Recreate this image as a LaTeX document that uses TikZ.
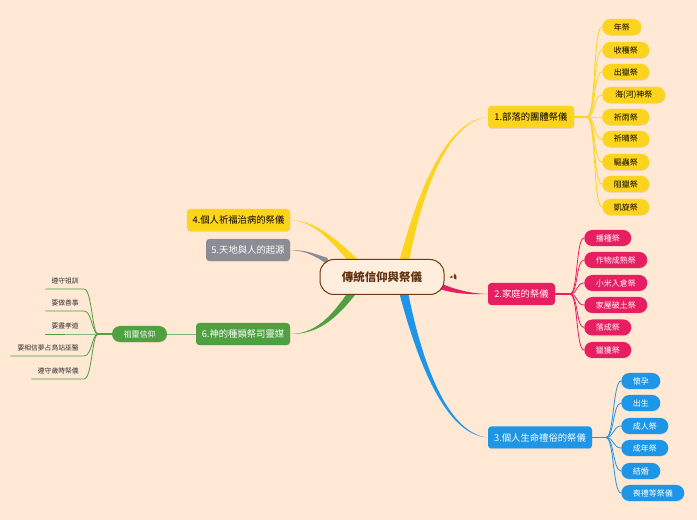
\documentclass[tikz,border=0pt]{standalone}
\usepackage{fontspec}
\setmainfont{Noto Sans CJK TC}
\usetikzlibrary{backgrounds,calc,shadows}
\definecolor{bgpeach}{HTML}{FFE8D4}
\definecolor{rootfill}{HTML}{FFEEDD}
\definecolor{rootbrown}{HTML}{6E3A10}
\definecolor{ymain}{HTML}{FCD41E}
\definecolor{pmain}{HTML}{E81E62}
\definecolor{bmain}{HTML}{1E96E8}
\definecolor{gmain}{HTML}{4EA040}
\definecolor{gymain}{HTML}{8C8C94}
\tikzset{
  softshade/.style={drop shadow={shadow xshift=0.3pt,shadow yshift=-0.6pt,opacity=0.18}},
  mainbox/.style={rounded corners=2.5pt,font=\fontsize{7pt}{8pt}\selectfont,
    minimum height=16.5pt,inner sep=0pt,softshade},
  subpill/.style={rounded corners=6pt,font=\fontsize{6pt}{7pt}\selectfont,
    minimum height=12pt,inner sep=0pt,softshade},
  plainleaf/.style={font=\fontsize{5.1pt}{6pt}\selectfont,inner xsep=3.75pt,inner ysep=3pt,
    text height=5pt,text depth=1pt,align=right,text=black!80,anchor=south east},
  leafline/.style={line width=0.6pt},
  trunk/.style={line width=1pt},
}
\begin{document}
\begin{tikzpicture}[x=0.75pt,y=-0.75pt]

\begin{scope}[on background layer]
\path[use as bounding box,fill=bgpeach] (0,0) rectangle (697,520);
\end{scope}

% Root and the six main topics
\node[rounded corners=10.5pt,draw=rootbrown,line width=0.75pt,fill=rootfill,text=rootbrown!85!black,
      minimum width=93pt,minimum height=26.25pt,inner sep=0pt,
      font=\fontsize{8.6pt}{10pt}\selectfont\bfseries] (root) at (382,277) {傳統信仰與祭儀};
\node[mainbox,fill=ymain,text=black,minimum width=64.5pt] (partA) at (531,117) {1.部落的團體祭儀};
\node[mainbox,fill=pmain,text=white,minimum width=50.25pt] (partB) at (521.5,294) {2.家庭的祭儀};
\node[mainbox,fill=bmain,text=white,minimum width=78pt] (partC) at (540,437.5) {3.個人生命禮俗的祭儀};
\node[mainbox,fill=ymain,text=black,minimum width=77.25pt] (partD) at (238.5,220) {4.個人祈福治病的祭儀};
\node[mainbox,fill=gymain,text=white,minimum width=63pt] (partE) at (248,250) {5.天地與人的起源};
\node[mainbox,fill=gmain,text=white,minimum width=70.5pt] (partF) at (243,334) {6.神的種類祭司靈媒};

% Pills of topic 1
\foreach \nm/\yy/\ww/\lab in {a1/27/39/年祭, a2/50/47/收穫祭, a3/72/47/出獵祭,
    a4/95/63/海(河)神祭, a5/117/47/祈雨祭, a6/139/47/祈晴祭,
    a7/162/47/驅蟲祭, a8/184/47/阻獵祭, a9/207/47/凱旋祭} {
  \node[subpill,fill=ymain,text=black,anchor=west,minimum width=\ww*0.75pt] (\nm) at (602,\yy) {\lab};
}
% Pills of topic 2
\foreach \nm/\yy/\ww/\lab in {b1/238/47/播種祭, b2/260/63/作物成熟祭, b3/283/63/小米入倉祭,
    b4/305/63/家屋破土祭, b5/327.5/47/落成祭, b6/350/47/獵獲祭} {
  \node[subpill,fill=pmain,text=white,anchor=west,minimum width=\ww*0.75pt] (\nm) at (584,\yy) {\lab};
}
% Pills of topic 3
\foreach \nm/\yy/\ww/\lab in {c1/381/39/懷孕, c2/403/39/出生, c3/426/47/成人祭,
    c4/448/47/成年祭, c5/471/39/結婚, c6/493/63/喪禮等祭儀} {
  \node[subpill,fill=bmain,text=white,anchor=west,minimum width=\ww*0.75pt] (\nm) at (621,\yy) {\lab};
}
% Topic 6 and its plain leaves
\node[subpill,fill=gmain,text=white,minimum width=41.25pt] (spirit) at (139.5,334) {祖靈信仰};
\foreach \nm/\yy/\ww/\lab in {f1/289/28/遵守祖訓, f2/311/28/要做善事, f3/334/28/要盡孝道,
    f4/356/63/要相信夢占鳥站巫醫, f5/379/42/遵守歲時祭儀} {
  \node[plainleaf,text width=\ww*0.75pt] (\nm) at (84,\yy) {\lab};
}

% Hubs
\coordinate (hubA) at (587,117);
\coordinate (hubB) at (570,294);
\coordinate (hubC) at (606,437.5);
\coordinate (hubF) at (98,334);

\begin{scope}[on background layer]
% Tapered branches out of the root
\fill[ymain] ($(root.north)+(17,3)$) .. controls (417,195) and (445,120) .. (partA.west)
  .. controls (446,122) and (421,197) .. ($(root.north)+(27,3)$) -- cycle;
\fill[bmain] ($(root.south)+(17,-3)$) .. controls (417,360) and (445,435) .. (partC.west)
  .. controls (446,433) and (421,358) .. ($(root.south)+(26,-3)$) -- cycle;
\fill[pmain] ($(root.east)+(-5,6)$) .. controls (455,289.5) and (470,293.5) .. (partB.west)
  .. controls (470,294.5) and (455,294) .. ($(root.east)+(-5,12)$) -- cycle;
\fill[ymain] ($(root.north west)+(38,0)$) .. controls (335,238) and (315,220.5) .. (partD.east)
  .. controls (314,221.5) and (332,241) .. ($(root.north west)+(30,4)$) -- cycle;
\fill[gymain] ($(root.north west)+(8,-1)$) .. controls (313,253) and (305,250) .. (partE.east)
  .. controls (305,251) and (314,255) .. ($(root.north west)+(9,6)$) -- cycle;
\fill[gmain] ($(root.south west)+(28,-2)$) .. controls (330,318) and (315,333.5) .. (partF.east)
  .. controls (316,334.5) and (335,321) .. ($(root.south west)+(37,-2)$) -- cycle;

% Sub branches
\draw[trunk,ymain] (partA.east) -- (hubA);
\draw[trunk,pmain] (partB.east) -- (hubB);
\draw[trunk,bmain] (partC.east) -- (hubC);
\draw[trunk,gmain] (spirit.west) -- (hubF);
\draw[leafline,gmain!75] (spirit.east) -- (partF.west);
\foreach \nm in {a1,a2,a3,a4,a5,a6,a7,a8,a9} {
  \draw[leafline,ymain] (hubA) .. controls +(9,0) and +(-9,0) .. (\nm.west);
}
\foreach \nm in {b1,b2,b3,b4,b5,b6} {
  \draw[leafline,pmain] (hubB) .. controls +(8,0) and +(-8,0) .. (\nm.west);
}
\foreach \nm in {c1,c2,c3,c4,c5,c6} {
  \draw[leafline,bmain] (hubC) .. controls +(8,0) and +(-8,0) .. (\nm.west);
}
\foreach \nm in {f1,f2,f3,f4,f5} {
  \draw[leafline,gmain] (\nm.south west) -- (\nm.south east) .. controls +(8,0) and +(-6,0) .. (hubF);
}
\end{scope}

% Small note mark beside the root
\fill[rootbrown] (449.5,277.5) -- (452,275.5) -- (452.5,278) -- cycle
  (453.5,276) -- (454.8,273.5) -- (456.5,276.5) -- (456.3,279.5) -- (454,278.5) -- cycle;
\end{tikzpicture}
\end{document}
